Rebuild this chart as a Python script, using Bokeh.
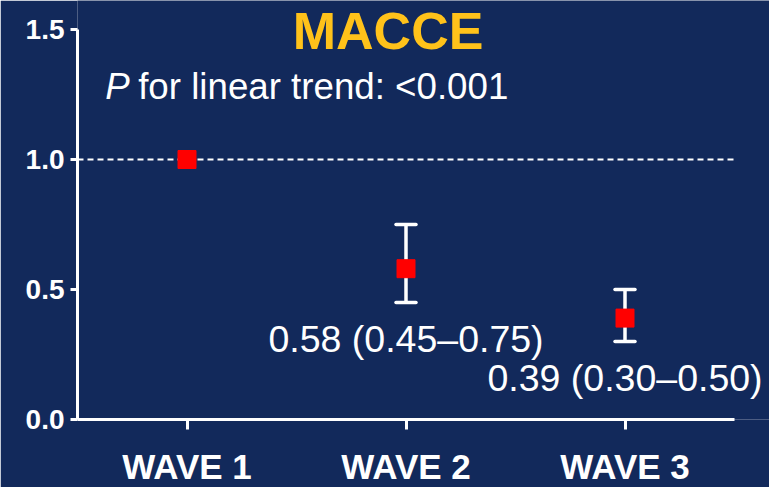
from bokeh.plotting import figure
from bokeh.models import Label, FixedTicker, Range1d
from bokeh.embed import file_html
from bokeh.resources import INLINE

# ---- data ----
waves = ["WAVE 1", "WAVE 2", "WAVE 3"]
wave_pos = [1, 2, 3]
hr = [1.0, 0.58, 0.39]
ci_low = [None, 0.45, 0.30]
ci_high = [None, 0.75, 0.50]
ci_text = ["", "0.58 (0.45\u20130.75)", "0.39 (0.30\u20130.50)"]
y_ticks = [0.0, 0.5, 1.0, 1.5]
title_text = "MACCE"
p_text = "for linear trend: <0.001"

BG = "#12295b"
WHITE = "#ffffff"
FONT = "Liberation Sans"

# layout: axes drawn over [0.5, 3.5] x [0, 1.5]; frame extends to the right
# and top edges so that texts are not clipped
W, H = 769, 487
LEFT, BOTTOM = 77, 68
X0, X1, Y0, Y1 = 0.5, 3.5, 0.0, 1.5
axis_w, axis_h = 657, 390
fw, fh = W - LEFT, H - BOTTOM
x_end = X0 + (X1 - X0) * fw / axis_w
y_end = Y0 + (Y1 - Y0) * fh / axis_h

p = figure(width=W, height=H, output_backend="svg", toolbar_location=None,
           x_range=Range1d(X0, x_end), y_range=Range1d(Y0, y_end),
           min_border_left=LEFT, min_border_right=0, min_border_top=0,
           min_border_bottom=BOTTOM, frame_width=fw, frame_height=fh)
p.background_fill_color = BG
p.border_fill_color = BG
p.outline_line_color = None
p.grid.visible = False

# axes
for ax in (p.xaxis[0], p.yaxis[0]):
    ax.axis_line_color = WHITE
    ax.axis_line_width = 3
    ax.major_tick_line_color = WHITE
    ax.major_tick_line_width = 3
    ax.minor_tick_line_color = None
    ax.major_tick_in = 0
    ax.major_label_text_color = WHITE
    ax.major_label_text_font = FONT
    ax.major_label_text_font_style = "bold"

p.yaxis.bounds = (Y0, Y1)
p.yaxis.ticker = FixedTicker(ticks=y_ticks)
p.yaxis.major_label_overrides = {t: f"{t:.1f}" for t in y_ticks}
p.yaxis.major_tick_out = 7
p.yaxis.major_label_standoff = 6
p.yaxis.major_label_text_font_size = "28px"

p.xaxis.bounds = (X0, X1)
p.xaxis.ticker = FixedTicker(ticks=wave_pos)
p.xaxis.major_label_overrides = {x: w for x, w in zip(wave_pos, waves)}
p.xaxis.major_tick_out = 10
p.xaxis.major_label_standoff = 17
p.xaxis.major_label_text_font_size = "35px"

# reference line at HR = 1
p.segment(x0=[X0], y0=[1.0], x1=[X1], y1=[1.0], line_color=WHITE,
          line_width=2, line_dash="6 4")

# error bars
ex = [x for x, lo in zip(wave_pos, ci_low) if lo is not None]
elo = [lo for lo in ci_low if lo is not None]
ehi = [hi for hi in ci_high if hi is not None]
p.segment(x0=ex, y0=elo, x1=ex, y1=ehi, line_color=WHITE, line_width=3.5)
p.scatter(x=ex + ex, y=elo + ehi, marker="dash", size=20, line_color=WHITE,
          line_width=3.5, line_cap="round")

# point estimates
p.scatter(x=wave_pos, y=hr, marker="square", size=18, fill_color="#ff0000",
          line_color="#ff0000")

# CI labels
for x, lo, t in zip(wave_pos, ci_low, ci_text):
    if lo is None:
        continue
    p.add_layout(Label(x=x, y=lo - 0.142, text=t, text_align="center",
                       text_baseline="alphabetic", text_color=WHITE,
                       text_font=FONT, text_font_size="37.5px"))

# title and p-value
p.add_layout(Label(x=1.918, y=1.493, text=title_text, text_align="center",
                   text_baseline="alphabetic", text_color="#ffc21a",
                   text_font=FONT, text_font_style="bold",
                   text_font_size="52px"))
p.add_layout(Label(x=0.627, y=1.281, text="P", text_align="left",
                   text_baseline="alphabetic", text_color=WHITE,
                   text_font=FONT, text_font_style="italic",
                   text_font_size="36.7px"))
p.add_layout(Label(x=0.777, y=1.281, text=p_text, text_align="left",
                   text_baseline="alphabetic", text_color=WHITE,
                   text_font=FONT, text_font_size="36.7px"))

open("out.html", "w").write(file_html(p, INLINE))
